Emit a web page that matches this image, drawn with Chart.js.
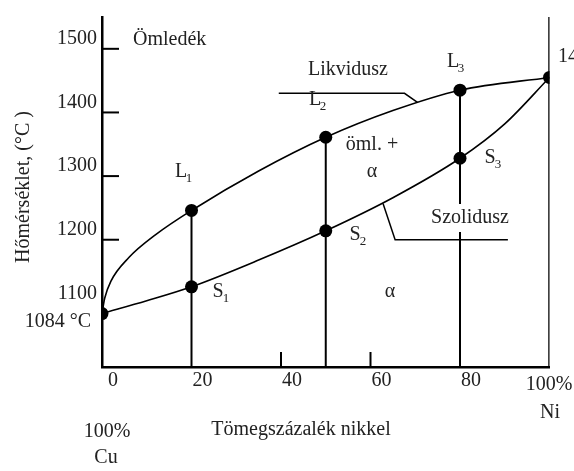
<!DOCTYPE html>
<html>
<head>
<meta charset="utf-8">
<script src="https://cdn.jsdelivr.net/npm/chart.js@4/dist/chart.umd.min.js"></script>
<style>
html, body { margin: 0; padding: 0; background: #fff; }
#wrap { width: 574px; height: 471px; }
</style>
</head>
<body>
<div id="wrap"><canvas id="c" width="574" height="471"></canvas></div>
<script>
// Cu–Ni phase diagram: composition in wt% Ni, temperature in °C
const X_TICKS = [0, 20, 40, 60, 80];
const Y_TICKS = [1100, 1200, 1300, 1400, 1500];
const Y_MARKS = [1200, 1300, 1400, 1500];
const X_MARKS = [40, 60];

const liquidusNi = [0, 0.6, 2, 6, 12, 20, 35, 50, 65, 80, 100];
const liquidusT  = [1084, 1108, 1135, 1172, 1208, 1246, 1308, 1361, 1403, 1435, 1455];

const solidusNi = [0, 10, 20, 35, 50, 65, 80, 90, 100];
const solidusT  = [1084, 1104, 1126, 1168, 1214, 1266, 1328, 1382, 1455];

const pointNi = [0, 20, 20, 50, 50, 80, 80, 100];
const pointT  = [1084, 1246, 1126, 1361, 1214, 1435, 1328, 1455];

// vertical composition lines from the liquidus down to the axis
const tieNi  = [20, 50, 80];
const tieTop = [1246, 1361, 1435];

const likvLeaderNi = [39.5, 67.6, 70.5];
const likvLeaderT  = [1430, 1430, 1416];
const szolLeaderNi = [62.8, 65.5, 90.7];
const szolLeaderT  = [1257, 1200, 1200];

const T_MIN = 1000, T_MAX = 1550;
const CU_MELT = 1084, NI_MELT = 1455;

const FONT = "'Liberation Serif', 'Times New Roman', serif";
const INK = '#222';

const pts = (xs, ys) => xs.map((v, i) => ({ x: v, y: ys[i] }));
const lineDs = (data, width, extra) => Object.assign({
  data, showLine: true, borderColor: '#000', borderWidth: width,
  pointRadius: 0, fill: false, tension: 0
}, extra || {});

const datasets = [
  lineDs(pts(liquidusNi, liquidusT), 1.6, { cubicInterpolationMode: 'monotone' }),
  lineDs(pts(solidusNi, solidusT), 1.6, { cubicInterpolationMode: 'monotone' }),
  ...tieNi.map((n, i) => lineDs([{ x: n, y: tieTop[i] }, { x: n, y: T_MIN }], 2)),
  lineDs([{ x: 100, y: T_MAX }, { x: 100, y: T_MIN }], 2.5),
  lineDs(pts(likvLeaderNi, likvLeaderT), 1.5),
  lineDs(pts(szolLeaderNi, szolLeaderT), 1.5),
  {
    data: pts(pointNi, pointT), showLine: false,
    pointRadius: 6.5, pointBackgroundColor: '#000', pointBorderWidth: 0,
    pointStyle: 'circle'
  }
];

function text(ctx, s, x, y, size, align) {
  ctx.font = size + 'px ' + FONT;
  ctx.textAlign = align || 'center';
  ctx.textBaseline = 'middle';
  ctx.fillText(s, x, y);
}
function subLabel(ctx, main, sub, x, y) {
  text(ctx, main, x, y, 20, 'center');
  text(ctx, sub, x + 8, y + 7, 13, 'center');
}

const decorations = {
  id: 'decorations',
  afterDatasetsDraw(chart) {
    const { ctx, scales: { x, y } } = chart;
    ctx.save();
    // inward tick marks
    ctx.strokeStyle = '#000';
    ctx.lineWidth = 2;
    const x0 = x.getPixelForValue(0);
    const yb = y.getPixelForValue(T_MIN);
    Y_MARKS.forEach(v => {
      const py = y.getPixelForValue(v);
      ctx.beginPath(); ctx.moveTo(x0, py); ctx.lineTo(x0 + 17, py); ctx.stroke();
    });
    X_MARKS.forEach(v => {
      const px = x.getPixelForValue(v);
      ctx.beginPath(); ctx.moveTo(px, yb); ctx.lineTo(px, yb - 15); ctx.stroke();
    });

    ctx.fillStyle = INK;
    text(ctx, 'Ömledék', 133, 40, 20, 'left');
    text(ctx, 'Likvidusz', 348, 70, 20);
    subLabel(ctx, 'L', '1', 181, 172);
    subLabel(ctx, 'S', '1', 218, 292);
    subLabel(ctx, 'L', '2', 315, 100);
    subLabel(ctx, 'S', '2', 355, 235);
    subLabel(ctx, 'L', '3', 453, 62);
    subLabel(ctx, 'S', '3', 490, 158);
    text(ctx, 'öml. +', 372, 145, 20);
    text(ctx, 'α', 372, 172, 20);
    text(ctx, 'α', 390, 292, 20);

    // solidus caption sits on a white patch over the 80 % line
    ctx.fillStyle = '#fff';
    ctx.fillRect(428, 204, 86, 28);
    ctx.fillStyle = INK;
    text(ctx, 'Szolidusz', 470, 218, 20);

    text(ctx, CU_MELT + ' °C', 58, 322, 20);
    text(ctx, NI_MELT + ' °C', 558, 57, 20, 'left');

    text(ctx, 'Tömegszázalék nikkel', 301, 430, 20);
    text(ctx, '100%', 107, 432, 20);
    text(ctx, 'Cu', 106, 458, 20);
    text(ctx, '100%', 549, 385, 20);
    text(ctx, 'Ni', 550, 413, 20);

    ctx.translate(24, 187);
    ctx.rotate(-Math.PI / 2);
    text(ctx, 'Hőmérséklet, (°C )', 0, 0, 20);
    ctx.restore();
  }
};

new Chart(document.getElementById('c'), {
  type: 'scatter',
  data: { datasets },
  options: {
    responsive: false,
    animation: false,
    devicePixelRatio: 1,
    layout: { padding: { top: 8, right: 24.5, left: 0, bottom: 0 } },
    plugins: { legend: { display: false }, tooltip: { enabled: false } },
    scales: {
      x: {
        type: 'linear', min: 0, max: 100,
        afterBuildTicks: s => { s.ticks = X_TICKS.map(v => ({ value: v })); },
        afterFit: s => { s.height = 104; },
        grid: { display: false, drawTicks: false },
        border: { display: true, color: '#000', width: 2.5 },
        ticks: { color: INK, font: { family: FONT, size: 20 }, padding: 2, labelOffset: 11, maxRotation: 0,
                 callback: v => String(v) }
      },
      y: {
        type: 'linear', min: T_MIN, max: T_MAX,
        afterBuildTicks: s => { s.ticks = Y_TICKS.map(v => ({ value: v })); },
        afterFit: s => { s.width = 102; },
        grid: { display: false, drawTicks: false },
        border: { display: true, color: '#000', width: 2.5 },
        ticks: { color: INK, font: { family: FONT, size: 20 }, padding: 5, labelOffset: -10,
                 callback: v => String(v) }
      }
    }
  },
  plugins: [decorations]
});
</script>
</body>
</html>
